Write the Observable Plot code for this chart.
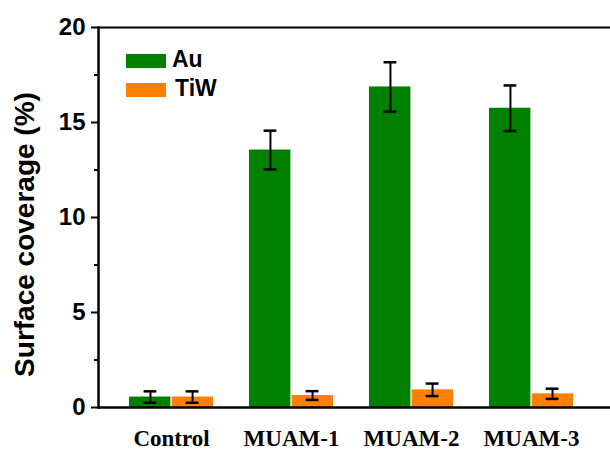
<!DOCTYPE html>
<html>
<head>
<meta charset="utf-8">
<script src="https://cdn.jsdelivr.net/npm/d3@7"></script>
<script src="https://cdn.jsdelivr.net/npm/@observablehq/plot@0.6"></script>
<style>
  html, body { margin: 0; padding: 0; background: #fff; }
  #wrap { position: relative; width: 610px; height: 450px; }
  .legend { position: absolute; left: 126px; top: 45px; font-family: "Liberation Sans", Arial, sans-serif; font-weight: bold; font-size: 23px; color: #000; }
  .legend .row { display: flex; align-items: center; height: 29px; }
  .legend .sw { width: 40px; height: 14px; margin-right: 6px; margin-top: 3px; }
</style>
</head>
<body>
<div id="wrap"></div>
<script>
// ---- data ----
const groups = ["Control", "MUAM-1", "MUAM-2", "MUAM-3"];
const series = ["Au", "TiW"];
const colors = ["#008000", "#ff8000"];
const auMean = [0.55, 13.55, 16.87, 15.75];
const auErr  = [0.30, 1.02, 1.30, 1.20];
const tiwMean = [0.55, 0.63, 0.93, 0.72];
const tiwErr  = [0.30, 0.23, 0.33, 0.27];
const yTicks = [0, 5, 10, 15, 20];
const yMinor = [2.5, 7.5, 12.5, 17.5];
const yLabel = "Surface coverage (%)";

const au = groups.map((g, i) => ({group: g, series: "Au", value: auMean[i], err: auErr[i]}));
const tiw = groups.map((g, i) => ({group: g, series: "TiW", value: tiwMean[i], err: tiwErr[i]}));

// layout (style) parameters
const W = 610, H = 450, mL = 98, mR = 0, mT = 27, mB = 43;
const padIn = 0.3, padOut = 0.278, align = 0.463;
const bw = d3.scaleBand().domain(groups).range([mL, W - mR]).paddingInner(padIn).paddingOuter(padOut).align(align).bandwidth();
const cap = 13;

const chart = Plot.plot({
  width: W, height: H,
  marginLeft: mL, marginRight: mR, marginTop: mT, marginBottom: mB,
  style: {fontFamily: "'Liberation Sans', Arial, sans-serif", background: "white", color: "black"},
  x: {domain: groups, paddingInner: padIn, paddingOuter: padOut, align: align, axis: null},
  y: {domain: [0, 20], axis: null},
  marks: [
    Plot.barY(au, {x: "group", y: "value", fill: colors[0], insetLeft: 0, insetRight: bw / 2 + 0.5}),
    Plot.barY(tiw, {x: "group", y: "value", fill: colors[1], insetLeft: bw / 2 + 0.5, insetRight: 0}),
    Plot.ruleX(au, {x: "group", y1: d => d.value - d.err, y2: d => d.value + d.err, dx: -bw / 4, stroke: "black", strokeWidth: 2}),
    Plot.ruleX(tiw, {x: "group", y1: d => d.value - d.err, y2: d => d.value + d.err, dx: bw / 4, stroke: "black", strokeWidth: 2}),
    Plot.tickY(au, {x: "group", y: d => d.value + d.err, insetLeft: bw / 4 - cap / 2, insetRight: 3 * bw / 4 - cap / 2, stroke: "black", strokeWidth: 2.5}),
    Plot.tickY(au, {x: "group", y: d => d.value - d.err, insetLeft: bw / 4 - cap / 2, insetRight: 3 * bw / 4 - cap / 2, stroke: "black", strokeWidth: 2.5}),
    Plot.tickY(tiw, {x: "group", y: d => d.value + d.err, insetLeft: 3 * bw / 4 - cap / 2, insetRight: bw / 4 - cap / 2, stroke: "black", strokeWidth: 2.5}),
    Plot.tickY(tiw, {x: "group", y: d => d.value - d.err, insetLeft: 3 * bw / 4 - cap / 2, insetRight: bw / 4 - cap / 2, stroke: "black", strokeWidth: 2.5}),
    Plot.axisY({ticks: yTicks, tickSize: 7, tickPadding: 6, strokeWidth: 2, fontSize: 24, fontWeight: "bold", label: null}),
    Plot.axisY({ticks: yMinor, tickSize: 4, strokeWidth: 2, tickFormat: () => "", label: null}),
    Plot.axisX({tickSize: 0, tickPadding: 22, fontSize: 23, fontWeight: "bold", fontFamily: "'Liberation Serif', 'Times New Roman', serif", label: null}),
    Plot.ruleY([0], {stroke: "black", strokeWidth: 2.5}),
    Plot.ruleY([20], {stroke: "black", strokeWidth: 2}),
    Plot.frame({anchor: "left", stroke: "black", strokeWidth: 2.5}),
    Plot.text([yLabel], {frameAnchor: "left", rotate: -90, dx: -73, dy: 17, fontSize: 28, fontWeight: "bold", fill: "black", textAnchor: "middle"})
  ]
});

const wrap = document.getElementById("wrap");
wrap.appendChild(chart);
const leg = document.createElement("div");
leg.className = "legend";
leg.innerHTML = series.map((s, i) => `<div class="row"><div class="sw" style="background:${colors[i]}"></div><span style="margin-left:${i ? 3 : 0}px">${s}</span></div>`).join("");
wrap.appendChild(leg);
</script>
</body>
</html>
